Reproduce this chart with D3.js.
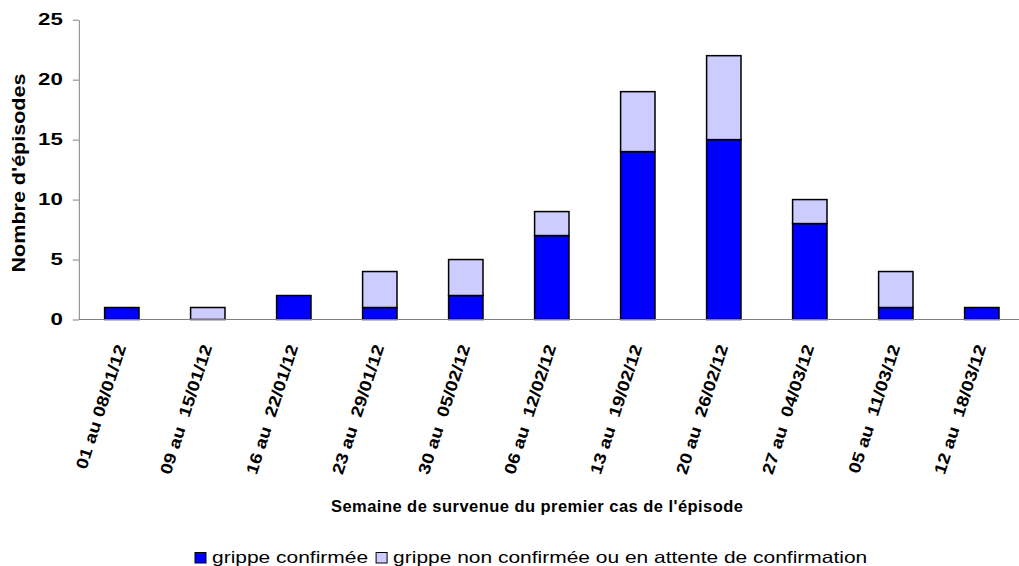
<!DOCTYPE html>
<html>
<head>
<meta charset="utf-8">
<script src="https://cdn.jsdelivr.net/npm/d3@7"></script>
<style>
  body { margin: 0; background: #fff; }
  text { font-family: "Liberation Sans", Arial, sans-serif; }
</style>
</head>
<body>
<div id="chart"></div>
<script>
// weeks of first case
const weeks = ["01 au 08/01/12", "09 au  15/01/12", "16 au  22/01/12", "23 au  29/01/12",
  "30 au  05/02/12", "06 au  12/02/12", "13 au  19/02/12", "20 au  26/02/12",
  "27 au  04/03/12", "05 au  11/03/12", "12 au  18/03/12"];
const confirmed = [1, 0, 2, 1, 2, 7, 14, 15, 8, 1, 1];
const notConfirmed = [0, 1, 0, 3, 3, 2, 5, 7, 2, 3, 0];
const yTicks = [0, 5, 10, 15, 20, 25];
const seriesNames = ["grippe confirmée", "grippe non confirmée ou en attente de confirmation"];
const seriesColors = ["#0000ff", "#ccccff"];

const width = 1019, height = 566;

const svg = d3.select("#chart").append("svg")
  .attr("width", width)
  .attr("height", height);

// the picture is stretched sideways, so text gets widened with textLength
function stretch(sel, k) {
  sel.each(function () {
    const len = this.getComputedTextLength();
    d3.select(this).attr("textLength", len * k).attr("lengthAdjust", "spacingAndGlyphs");
  });
}

const x = d3.scaleBand()
  .domain(weeks)
  .range([78.8, 1024.8])
  .paddingInner(0.6)
  .paddingOuter(0.3);

const y = d3.scaleLinear()
  .domain([0, 25])
  .range([319.5, 19.7]);

// stacked data
const rows = weeks.map((w, i) => ({ week: w, c: confirmed[i], n: notConfirmed[i] }));
const stack = d3.stack().keys(["c", "n"])(rows);

svg.append("g")
  .selectAll("g")
  .data(stack)
  .join("g")
  .attr("fill", (d, i) => seriesColors[i])
  .selectAll("rect")
  .data(d => d.filter(s => s[1] - s[0] > 0))
  .join("rect")
  .attr("x", d => x(d.data.week))
  .attr("width", x.bandwidth())
  .attr("y", d => y(d[1]))
  .attr("height", d => y(d[0]) - y(d[1]))
  .attr("stroke", "#000")
  .attr("stroke-width", 1.5);

// y axis
const yAxis = svg.append("g")
  .attr("transform", `translate(${x.range()[0]},0)`)
  .call(d3.axisLeft(y).tickValues(yTicks).tickSize(6).tickPadding(10).tickSizeOuter(0));
yAxis.select(".domain").attr("stroke", "#808080");
yAxis.selectAll(".tick line").attr("stroke", "#808080");
yAxis.selectAll(".tick text")
  .attr("font-size", 16.5)
  .attr("font-weight", "bold")
  .attr("fill", "#000")
  .attr("font-family", "Liberation Sans, Arial, sans-serif")
  .call(stretch, 1.35);

// x axis line
svg.append("line")
  .attr("x1", x.range()[0]).attr("x2", x.range()[1])
  .attr("y1", y(0)).attr("y2", y(0))
  .attr("stroke", "#808080");

// x labels
svg.append("g")
  .selectAll("text")
  .data(weeks)
  .join("text")
  .attr("transform", d => `translate(${x(d) + x.bandwidth() / 2 - 1},345) rotate(-72)`)
  .attr("text-anchor", "end")
  .attr("dy", "0.35em")
  .attr("font-size", 16.5)
  .attr("font-weight", "bold")
  .style("white-space", "pre")
  .text(d => d)
  .call(stretch, 1.17);

// axis titles
svg.append("text")
  .attr("transform", "translate(25,173) rotate(-90)")
  .attr("text-anchor", "middle")
  .attr("font-size", 17.5)
  .attr("font-weight", "bold")
  .text("Nombre d'épisodes")
  .call(stretch, 1.23);

svg.append("text")
  .attr("x", 537).attr("y", 512)
  .attr("text-anchor", "middle")
  .attr("font-size", 16.5)
  .attr("font-weight", "bold")
  .text("Semaine de survenue du premier cas de l'épisode")
  .attr("textLength", 412)
  .attr("lengthAdjust", "spacing");

// legend
const legend = svg.append("g").attr("transform", "translate(195,552.5)");
let lx = 0;
seriesNames.forEach((name, i) => {
  const g = legend.append("g").attr("transform", `translate(${lx},0)`);
  g.append("rect")
    .attr("width", 11).attr("height", 10.5)
    .attr("fill", seriesColors[i])
    .attr("stroke", "#000");
  const t = g.append("text")
    .attr("x", 17).attr("y", 10.5)
    .attr("font-size", 16.5)
    .text(name)
    .call(stretch, 1.27);
  lx += 17 + (+t.attr("textLength")) + 8;
});
</script>
</body>
</html>
